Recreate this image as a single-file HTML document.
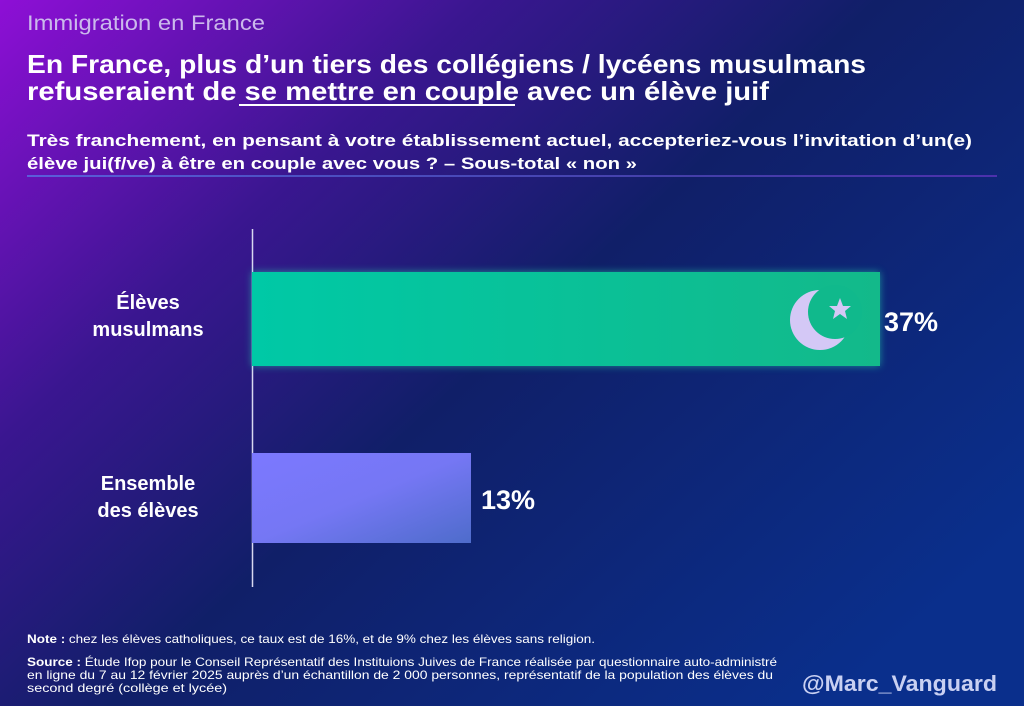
<!DOCTYPE html>
<html><head><meta charset="utf-8"><style>
html,body{margin:0;padding:0;width:1024px;height:706px;overflow:hidden;background:#0c2266}
svg{display:block}
text{font-family:"Liberation Sans",sans-serif;fill:#fff}
</style></head><body>
<svg width="1024" height="706" viewBox="0 0 1024 706" xmlns="http://www.w3.org/2000/svg">
<defs>
<linearGradient id="bg" x1="0" y1="0" x2="1" y2="0.75">
<stop offset="0" stop-color="#8e0fd6"/>
<stop offset="0.3" stop-color="#3a1690"/>
<stop offset="0.55" stop-color="#101f68"/>
<stop offset="1" stop-color="#0a2f8c"/>
</linearGradient>
<linearGradient id="sep" x1="0" x2="1"><stop offset="0" stop-color="#4fa8ff"/><stop offset="1" stop-color="#8a3ce0"/></linearGradient>
<linearGradient id="b1" x1="0" x2="1"><stop offset="0" stop-color="#00c9a6"/><stop offset="1" stop-color="#13b98a"/></linearGradient>
<linearGradient id="b2" x1="0" y1="0" x2="1" y2="1"><stop offset="0" stop-color="#7c78ff"/><stop offset="0.5" stop-color="#7577f4"/><stop offset="1" stop-color="#4e6ccb"/></linearGradient>
<filter id="glow" x="-10%" y="-20%" width="120%" height="140%"><feGaussianBlur stdDeviation="4"/></filter>
</defs>
<rect width="1024" height="706" fill="url(#bg)"/>
<text x="27" y="30" font-size="21" fill="#cbb9ec" style="fill:#cbb9ec" textLength="238" lengthAdjust="spacingAndGlyphs">Immigration en France</text>
<text x="27" y="73" font-size="26" font-weight="bold" textLength="839" lengthAdjust="spacingAndGlyphs">En France, plus d’un tiers des collégiens / lycéens musulmans</text>
<text x="27" y="100" font-size="26" font-weight="bold" textLength="742" lengthAdjust="spacingAndGlyphs">refuseraient de se mettre en couple avec un élève juif</text>
<rect x="239" y="104" width="276" height="2" fill="#fff"/>
<text x="27" y="146" font-size="17" font-weight="bold" textLength="945" lengthAdjust="spacingAndGlyphs">Très franchement, en pensant à votre établissement actuel, accepteriez-vous l’invitation d’un(e)</text>
<text x="27" y="169" font-size="17" font-weight="bold" textLength="610" lengthAdjust="spacingAndGlyphs">élève jui(f/ve) à être en couple avec vous ? – Sous-total « non »</text>
<rect x="27" y="175.5" width="970" height="1" fill="url(#sep)"/>
<line x1="252.5" y1="229" x2="252.5" y2="587" stroke="#d8d8f0" stroke-width="1.5"/>
<rect x="252" y="272" width="628" height="94" fill="#20e0b0" opacity="0.55" filter="url(#glow)"/>
<rect x="252" y="272" width="628" height="94" fill="url(#b1)"/>
<circle cx="820" cy="320" r="30" fill="#d4c8f6"/>
<circle cx="835" cy="312" r="27" fill="#10b98c"/>
<polygon points="840,298 843,306 851,306 845,311 847,319 840,314 833,319 835,311 829,306 837,306" fill="#d4c8f6"/>
<rect x="252" y="453" width="219" height="90" fill="url(#b2)"/>
<text x="884" y="331" font-size="27" font-weight="bold">37%</text>
<text x="481" y="509" font-size="27" font-weight="bold">13%</text>
<g font-size="20" font-weight="bold" text-anchor="middle">
<text x="148" y="309">Élèves</text>
<text x="148" y="336">musulmans</text>
<text x="148" y="490">Ensemble</text>
<text x="148" y="517">des élèves</text>
</g>
<g font-size="12" style="fill:#d8dcf4">
<text x="27" y="643" textLength="568" lengthAdjust="spacingAndGlyphs"><tspan font-weight="bold">Note :</tspan> chez les élèves catholiques, ce taux est de 16%, et de 9% chez les élèves sans religion.</text>
<text x="27" y="666" textLength="750" lengthAdjust="spacingAndGlyphs"><tspan font-weight="bold">Source :</tspan> Étude Ifop pour le Conseil Représentatif des Instituions Juives de France réalisée par questionnaire auto-administré</text>
<text x="27" y="679" textLength="746" lengthAdjust="spacingAndGlyphs">en ligne du 7 au 12 février 2025 auprès d’un échantillon de 2 000 personnes, représentatif de la population des élèves du</text>
<text x="27" y="692" textLength="200" lengthAdjust="spacingAndGlyphs">second degré (collège et lycée)</text>
</g>
<text x="802" y="691" font-size="22" font-weight="bold" style="fill:#c9d0f2" textLength="195" lengthAdjust="spacingAndGlyphs">@Marc_Vanguard</text>
</svg>
</body></html>
